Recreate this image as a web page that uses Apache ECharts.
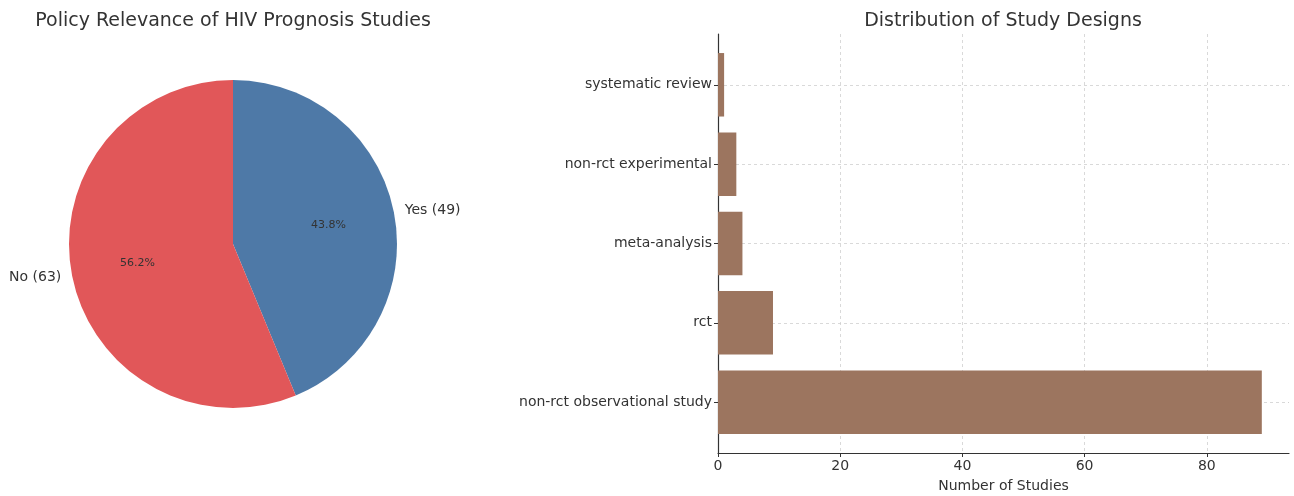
<!DOCTYPE html>
<html>
<head>
    <meta charset="utf-8">
    <title>HIV Prognosis Studies</title>
    <script src="https://cdn.jsdelivr.net/npm/echarts@6/dist/echarts.min.js"></script>
    <style>
        *{
            margin: 0;
            padding: 0;
        }
        html,body{
            width: 100%;
            height: 100%;
            overflow: hidden;
            background: #fff;
        }
        #main{
            width: 1294px;
            height: 496px;
        }
    </style>
</head>
<body>
<div id="main"></div>
</body>
</html>
<script>
    // pie data
    let policyNames = ['Yes', 'No'];
    let policyCounts = [49, 63];
    let policyColors = ['#4e79a7', '#e15759'];

    // bar data, bottom to top
    let designs = ['non-rct observational study', 'rct', 'meta-analysis', 'non-rct experimental', 'systematic review'];
    let designCounts = [89, 9, 4, 3, 1];
    let xTicks = [0, 20, 40, 60, 80];

    const font = 'DejaVu Sans';
    const R = 164;

    // python style %1.1f (round half to even)
    function fmt1(x) {
        let v = x * 10;
        let f = Math.floor(v);
        let r;
        if (Math.abs(v - f - 0.5) < 1e-9) r = f % 2 === 0 ? f : f + 1;
        else r = Math.round(v);
        return (r / 10).toFixed(1);
    }

    let total = policyCounts.reduce((a, b) => a + b, 0);
    let pieData = policyNames.map((n, i) => ({
        name: n,
        value: policyCounts[i],
        itemStyle: {color: policyColors[i]}
    }));

    let myCharts = echarts.init(document.getElementById('main'), null, {renderer: 'canvas'});
    let option = {
        backgroundColor: '#fff',
        animation: false,
        textStyle: {fontFamily: font},
        title: [{
            text: 'Policy Relevance of HIV Prognosis Studies',
            left: 228, top: 7, textAlign: 'center',
            textStyle: {fontFamily: font, fontSize: 19, fontWeight: 'normal', color: '#333'}
        }, {
            text: 'Distribution of Study Designs',
            left: 998, top: 7, textAlign: 'center',
            textStyle: {fontFamily: font, fontSize: 19, fontWeight: 'normal', color: '#333'}
        }],
        grid: {left: 718, right: 5, top: 34, bottom: 43, containLabel: false, outerBoundsMode: 'none'},
        xAxis: {
            type: 'value',
            min: 0,
            max: 93.45,
            name: 'Number of Studies',
            nameLocation: 'middle',
            nameGap: 26,
            nameTextStyle: {fontFamily: font, fontSize: 14, color: '#333'},
            axisLine: {show: true, onZero: false, lineStyle: {color: '#333', width: 1.2}},
            axisTick: {show: true, length: 4, customValues: xTicks, lineStyle: {color: '#333'}},
            axisLabel: {customValues: xTicks, fontFamily: font, fontSize: 14, color: '#333', margin: 6},
            splitLine: {show: true, showMinLine: true, showMaxLine: true, lineStyle: {color: '#d0d0d0', type: [3, 3], width: 0.8}}
        },
        yAxis: {
            type: 'value',
            min: -0.64,
            max: 4.64,
            axisLine: {show: true, onZero: false, lineStyle: {color: '#333', width: 1.2}},
            axisTick: {show: true, length: 4, customValues: [0, 1, 2, 3, 4], lineStyle: {color: '#333'}},
            axisLabel: {
                customValues: [0, 1, 2, 3, 4],
                fontFamily: font, fontSize: 14, color: '#333', margin: 6,
                formatter: v => designs[Math.round(v)] || ''
            },
            splitLine: {show: true, showMinLine: true, showMaxLine: true, lineStyle: {color: '#d0d0d0', type: [3, 3], width: 0.8}}
        },
        series: [{
            type: 'pie',
            center: [233, 244],
            radius: [0, R],
            startAngle: 90,
            clockwise: true,
            data: pieData,
            label: {
                show: true,
                position: 'outside',
                width: 80,
                fontFamily: font, fontSize: 14, color: '#333',
                formatter: p => p.name + ' (' + p.value + ')'
            },
            labelLine: {show: false, length: 6, length2: 0},
            emphasis: {disabled: true}
        }, {
            type: 'pie',
            center: [233, 244],
            radius: [R * 0.15, R],
            startAngle: 90,
            clockwise: true,
            data: pieData.map(d => ({name: d.name, value: d.value, itemStyle: {color: 'rgba(0,0,0,0)'}})),
            label: {
                show: true,
                position: 'inside',
                fontFamily: font, fontSize: 11, color: '#333',
                formatter: p => fmt1(p.value / total * 100) + '%'
            },
            labelLine: {show: false},
            emphasis: {disabled: true},
            silent: true
        }, {
            type: 'custom',
            coordinateSystem: 'cartesian2d',
            data: designCounts.map((v, i) => [v, i]),
            renderItem: function (params, api) {
                let v = api.value(0);
                let i = api.value(1);
                let p0 = api.coord([0, i + 0.4]);
                let p1 = api.coord([v, i - 0.4]);
                return {
                    type: 'rect',
                    shape: {x: p0[0], y: p0[1], width: p1[0] - p0[0], height: p1[1] - p0[1]},
                    style: {fill: '#9c755f'}
                };
            },
            encode: {x: 0, y: 1}
        }]
    };
    myCharts.setOption(option);
</script>
